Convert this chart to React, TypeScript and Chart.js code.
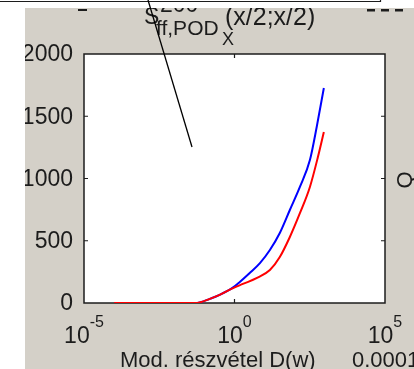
import React, { useEffect, useRef } from "react";
import { Chart, registerables } from "chart.js";

Chart.register(...registerables);

// Series
const redX = [1e-4, 0.05, 0.07, 0.16, 0.32, 0.9, 1.9, 5.6, 15, 32, 69, 150, 320, 590, 930];
const redY = [0, 0, 5, 35, 65, 120, 153, 201, 265, 369, 530, 723, 932, 1172, 1373];
const blueX = [1e-4, 0.05, 0.07, 0.16, 0.32, 0.9, 1.5, 3.2, 7, 15, 32, 69, 150, 320, 540, 930];
const blueY = [0, 0, 5, 35, 65, 125, 169, 241, 321, 426, 562, 747, 934, 1148, 1416, 1727];

const xTickValues = [1e-5, 1, 1e5];
const xTickExponents = ["-5", "0", "5"];
const yTickValues = [0, 500, 1000, 1500, 2000];
const yTickLabels = ["0", "500", "1000", "1500", "2000"];

const xLabel = "Mod. részvétel D(w)";
const rightLabel = "Q";
const cornerLabel = "0.0001";

const FONT = "'Liberation Sans', Arial, sans-serif";
const GREY = "#d4d0c8";
const INK = "#1c1c1c";

const decorPlugin = {
  id: "decor",
  beforeDraw(chart: any) {
    const { ctx, width, height, chartArea: a } = chart;
    ctx.save();
    ctx.fillStyle = "#ffffff";
    ctx.fillRect(0, 0, width, height);
    ctx.fillStyle = GREY;
    ctx.fillRect(25, 8, width - 25, height - 8);
    ctx.fillStyle = "#ffffff";
    ctx.fillRect(a.left, a.top, a.right - a.left, a.bottom - a.top);
    ctx.restore();
  },
  beforeDatasetsDraw(chart: any) {
    const { ctx, chartArea: a, scales } = chart;
    const xs = scales.x;
    const ys = scales.y;
    ctx.save();
    ctx.strokeStyle = INK;
    ctx.lineWidth = 1.5;
    ctx.strokeRect(a.left, a.top, a.right - a.left, a.bottom - a.top);
    ctx.lineWidth = 1.2;
    ctx.beginPath();
    for (const v of yTickValues) {
      const y = ys.getPixelForValue(v);
      if (v === 0 || v === 2000) continue;
      ctx.moveTo(a.left, y);
      ctx.lineTo(a.left + 4, y);
      ctx.moveTo(a.right, y);
      ctx.lineTo(a.right - 4, y);
    }
    for (const v of xTickValues) {
      const x = xs.getPixelForValue(v);
      if (v === 1e-5 || v === 1e5) continue;
      ctx.moveTo(x, a.bottom);
      ctx.lineTo(x, a.bottom - 4);
      ctx.moveTo(x, a.top);
      ctx.lineTo(x, a.top + 4);
    }
    ctx.stroke();
    ctx.restore();
  },
  afterDraw(chart: any) {
    const { ctx, width, scales } = chart;
    const xs = scales.x;
    const ys = scales.y;
    ctx.save();
    ctx.fillStyle = INK;
    // y tick labels
    ctx.font = `23px ${FONT}`;
    ctx.textAlign = "right";
    ctx.textBaseline = "middle";
    yTickValues.forEach((v, i) => {
      ctx.fillText(yTickLabels[i], 73, ys.getPixelForValue(v) + 1);
    });
    // x tick labels: 10 with superscript
    ctx.textBaseline = "alphabetic";
    ctx.textAlign = "left";
    xTickValues.forEach((v, i) => {
      const x = xs.getPixelForValue(v);
      ctx.font = `23px ${FONT}`;
      const w1 = ctx.measureText("10").width;
      ctx.font = `16px ${FONT}`;
      const w2 = ctx.measureText(xTickExponents[i]).width;
      const start = x - (w1 + w2) / 2;
      ctx.font = `23px ${FONT}`;
      ctx.fillText("10", start, 343);
      ctx.font = `16px ${FONT}`;
      ctx.fillText(xTickExponents[i], start + w1, 327);
    });
    // x label and corner text
    ctx.font = `22px ${FONT}`;
    ctx.fillText(xLabel, 120, 367);
    ctx.fillText(cornerLabel, 352, 367);
    // right label rotated
    ctx.save();
    ctx.translate(412, 180);
    ctx.rotate(-Math.PI / 2);
    ctx.textAlign = "center";
    ctx.font = `22px ${FONT}`;
    ctx.fillText(rightLabel, 0, 0);
    ctx.restore();
    // title
    ctx.font = `23px ${FONT}`;
    ctx.fillText("S", 144, 24);
    ctx.fillText("200", 160, 12);
    ctx.font = `21px ${FONT}`;
    ctx.fillText("ff,POD", 156, 35);
    ctx.font = `25px ${FONT}`;
    ctx.fillText("(x/2;x/2)", 225, 25);
    ctx.font = `18px ${FONT}`;
    ctx.fillText("X", 222, 45);
    // white covers
    ctx.fillStyle = "#ffffff";
    ctx.fillRect(0, 0, 25, chart.height);
    ctx.fillRect(0, 0, width, 8);
    // cut-off marks from text above
    ctx.fillStyle = INK;
    ctx.fillRect(78, 9, 9, 2);
    ctx.fillRect(367, 9, 8, 2.5);
    ctx.fillRect(381, 9, 8, 2.5);
    ctx.fillRect(395, 9, 8, 2.5);
    // box line at top
    ctx.strokeStyle = INK;
    ctx.lineWidth = 1.2;
    ctx.beginPath();
    ctx.moveTo(0, 1.5);
    ctx.lineTo(380.5, 1.5);
    ctx.lineTo(380.5, 0);
    ctx.stroke();
    // annotation line
    ctx.strokeStyle = "#000000";
    ctx.lineWidth = 1.3;
    ctx.beginPath();
    ctx.moveTo(148, 0);
    ctx.lineTo(192, 147);
    ctx.stroke();
    ctx.restore();
  },
};

export default function App() {
  const ref = useRef<HTMLCanvasElement | null>(null);
  useEffect(() => {
    if (!ref.current) return;
    const chart = new Chart(ref.current, {
      type: "line",
      data: {
        datasets: [
          {
            label: "red",
            data: redX.map((x, i) => ({ x, y: redY[i] })),
            borderColor: "#ff0000",
            borderWidth: 2,
            pointRadius: 0,
            cubicInterpolationMode: "monotone",
            fill: false,
          },
          {
            label: "blue",
            data: blueX.map((x, i) => ({ x, y: blueY[i] })),
            borderColor: "#0000ff",
            borderWidth: 2,
            pointRadius: 0,
            cubicInterpolationMode: "monotone",
            fill: false,
          },
        ],
      },
      options: {
        animation: false,
        responsive: false,
        events: [],
        layout: { padding: { left: 84, top: 54, right: 29, bottom: 66 } },
        plugins: { legend: { display: false }, tooltip: { enabled: false } },
        scales: {
          x: { type: "logarithmic", min: 1e-5, max: 1e5, display: false },
          y: { type: "linear", min: 0, max: 2000, display: false },
        },
      },
      plugins: [decorPlugin],
    } as any);
    return () => chart.destroy();
  }, []);
  return (
    <div style={{ position: "absolute", left: 0, top: 0, width: 414, height: 369 }}>
      <canvas ref={ref} width={414} height={369} style={{ display: "block" }} />
    </div>
  );
}
